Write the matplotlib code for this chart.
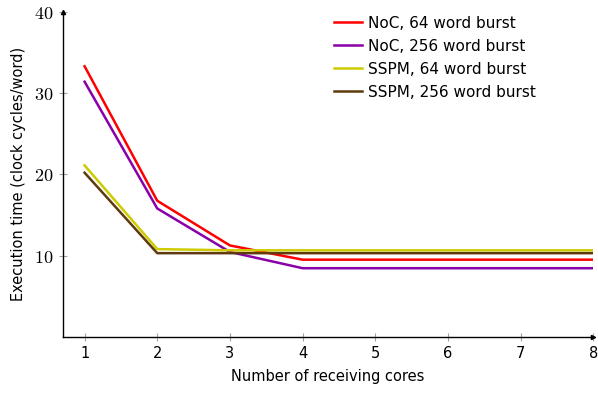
import matplotlib
matplotlib.use('Agg')
import matplotlib.pyplot as plt
from matplotlib.ticker import FixedLocator, FuncFormatter

# data
cores = [1, 2, 3, 4, 5, 6, 7, 8]
noc_64 = [33.3, 16.75, 11.25, 9.5, 9.5, 9.5, 9.5, 9.5]
noc_256 = [31.4, 15.8, 10.45, 8.45, 8.45, 8.45, 8.45, 8.45]
sspm_64 = [21.1, 10.8, 10.65, 10.65, 10.65, 10.65, 10.65, 10.65]
sspm_256 = [20.2, 10.3, 10.3, 10.3, 10.3, 10.3, 10.3, 10.3]
labels = ['NoC, 64 word burst', 'NoC, 256 word burst',
          'SSPM, 64 word burst', 'SSPM, 256 word burst']
colors = ['#ff0000', '#8a00a8', '#cccc00', '#5e3a0c']

plt.rcParams['mathtext.fontset'] = 'cm'

fig = plt.figure(figsize=(5.98, 3.94), dpi=100)
ax = fig.add_axes([0.105, 0.145, 0.887, 0.825])

for ys, lab, c in zip([noc_64, noc_256, sspm_64, sspm_256], labels, colors):
    ax.plot(cores, ys, color=c, lw=1.8, label=lab)

ax.set_xlim(0.7, 8)
ax.set_ylim(0, 40)
ax.xaxis.set_major_locator(FixedLocator(cores))
ax.yaxis.set_major_locator(FixedLocator([10, 20, 30, 40]))
ax.yaxis.set_major_formatter(FuncFormatter(lambda v, p: r'$%d$' % v))
ax.tick_params(direction='inout', length=6, color='#a0a0a0')
ax.tick_params(axis='x', labelsize=10.5)
ax.tick_params(axis='y', labelsize=13)

for s in ['top', 'right']:
    ax.spines[s].set_visible(False)
for s in ['left', 'bottom']:
    ax.spines[s].set_linewidth(1.0)
# pgfplots-style arrow heads
ax.plot(1, 0, '>k', ms=3, transform=ax.transAxes, clip_on=False)
ax.plot(0, 1, '^k', ms=3, transform=ax.transAxes, clip_on=False)

ax.set_xlabel('Number of receiving cores', fontsize=10.5, labelpad=6)
ax.set_ylabel('Execution time (clock cycles/word)', fontsize=10.5, labelpad=6)

ax.legend(loc='upper right', bbox_to_anchor=(0.918, 1.03), frameon=False,
          fontsize=11, handlelength=1.8, labelspacing=0.52, handletextpad=0.4)

fig.savefig('out.png', dpi=100)
